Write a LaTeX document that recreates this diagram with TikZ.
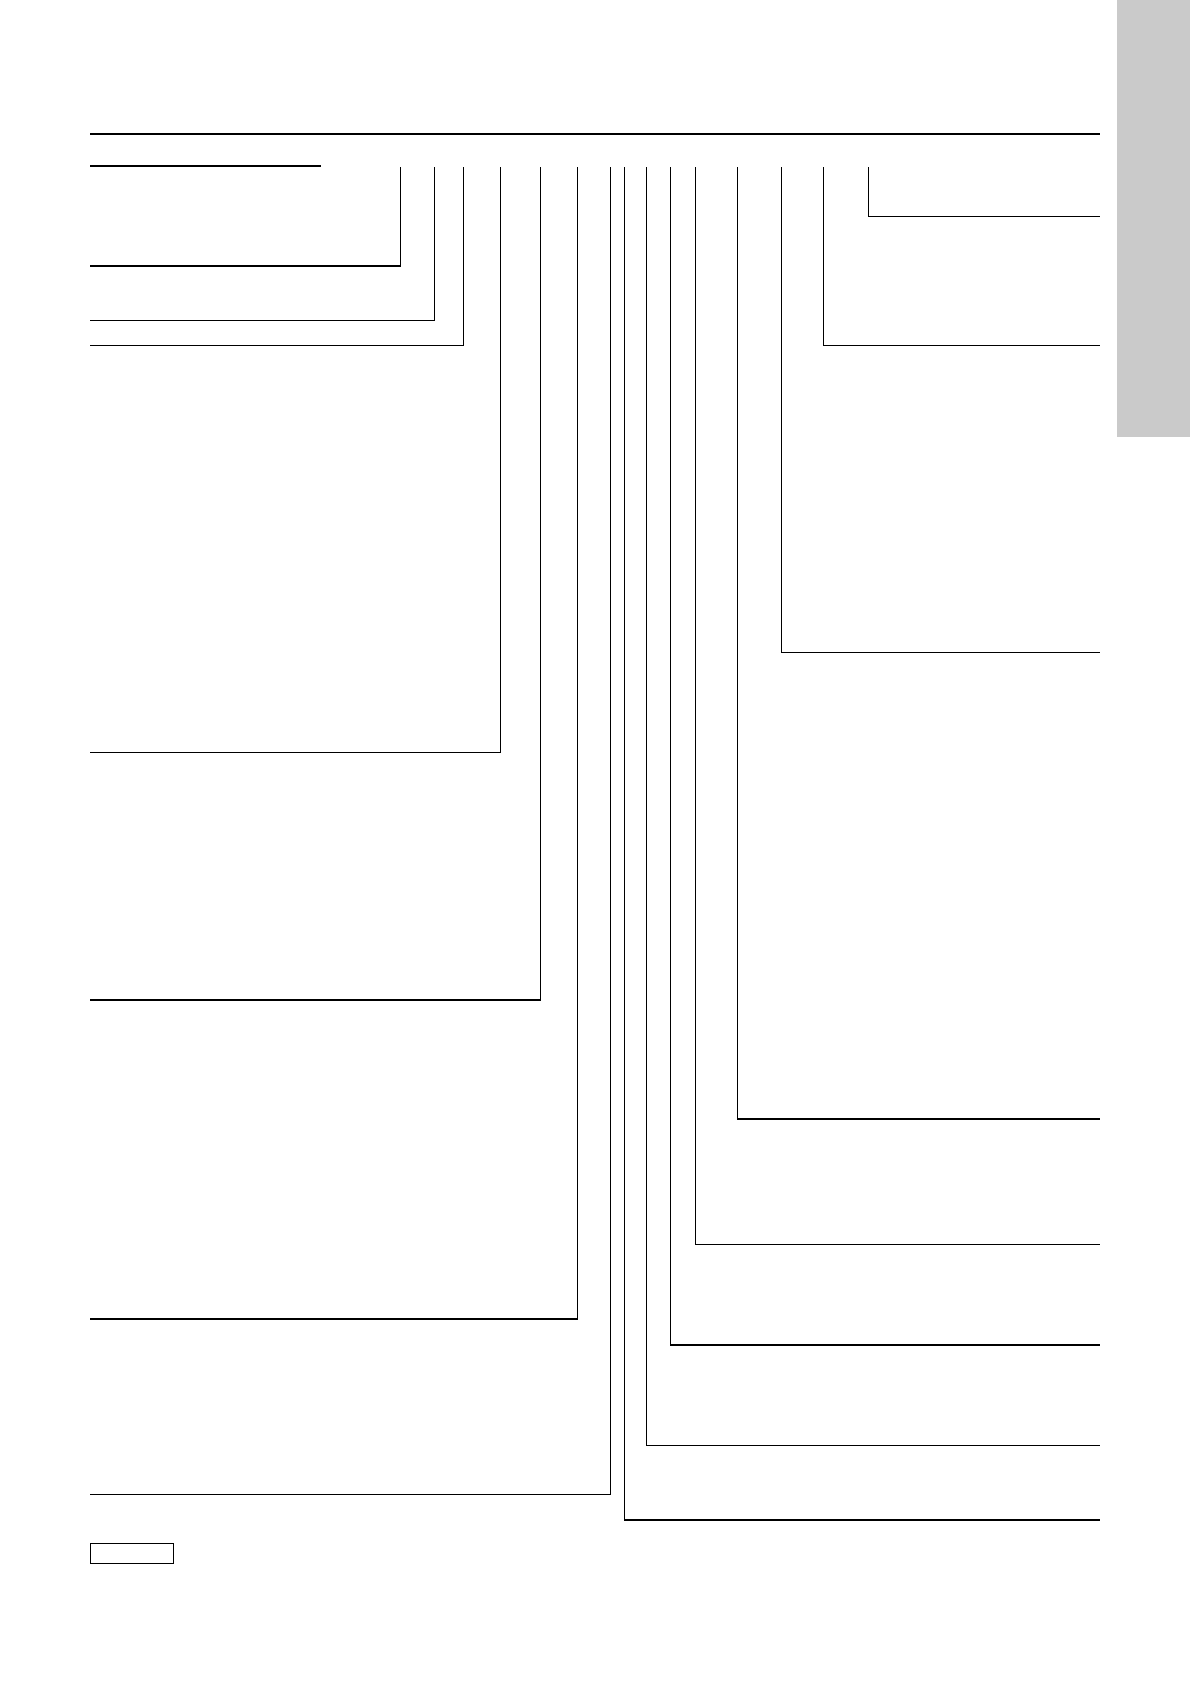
\documentclass[tikz,border=0pt]{standalone}
\definecolor{tabgray}{HTML}{CACACA}
\begin{document}
\begin{tikzpicture}[x=1pt,y=-1pt,
  thickrule/.style={line width=2pt},
  lead/.style={line width=1.2pt, line join=miter}]
\useasboundingbox (0,0) rectangle (1190,1684);
\fill[tabgray] (1117,0) rectangle (1190,437);
% header rules
\coordinate (tl) at (90,133.7); \coordinate (tr) at (1100,133.7);
\draw[thickrule] (tl) -- (tr);
\coordinate (sl) at (90,166); \coordinate (sr) at (320.5,166);
\draw[lead] (sl) -- (sr);
% left leaders: top at y=167, down, then left to x=90
\foreach \x/\y in {400.5/266, 434.2/320.3, 463.3/345.3, 500.7/752.3, 540.3/1000, 577.4/1319, 610.4/1494.5}{
  \draw[lead] (\x,167) -- (\x,\y) -- (90,\y);
}
% right leaders: top at y=167, down, then right to x=1100
\foreach \x/\y in {624.4/1520, 646.5/1445.5, 670.3/1345, 695.4/1244.2, 737.4/1119, 781.4/652.2, 823.6/345.3, 868.3/216.3}{
  \draw[lead] (\x,167) -- (\x,\y) -- (1100,\y);
}
% small box
\node[draw, line width=1.2pt, minimum width=82.5pt, minimum height=20pt, anchor=north west, inner sep=0pt] (box) at (90,1543) {};
\end{tikzpicture}
\end{document}
